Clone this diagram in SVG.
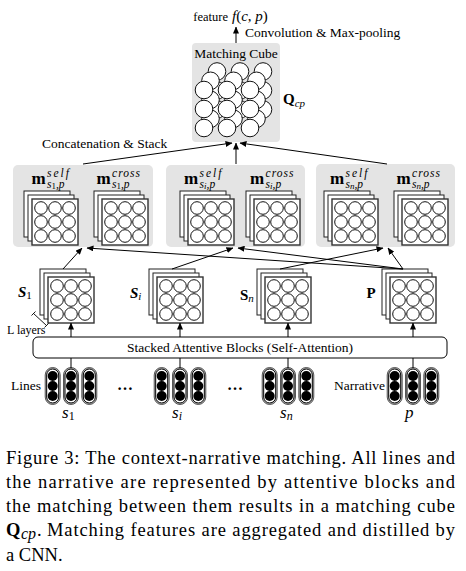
<svg xmlns="http://www.w3.org/2000/svg" width="466" height="571" viewBox="0 0 466 571">
<style>
text{font-family:"Liberation Serif","DejaVu Serif",serif;fill:#000}
.t{font-size:13.5px}
.box{fill:#e4e4e4;stroke:none}
.sheet{fill:#fff;stroke:#222;stroke-width:1}
.front{fill:#fff;stroke:#333;stroke-width:1.4}
.cc{fill:#fff;stroke:#111;stroke-width:1}
.conn line{stroke:#000;stroke-width:1;fill:none}
.arr{marker-end:url(#ah)}
.capo{fill:#bbb;stroke:#333;stroke-width:0.8}
.capi{fill:#fff;stroke:#000;stroke-width:1}
.dot{fill:#000}
.m{font-size:17px;font-weight:bold}
.sup{font-size:11.5px;font-style:italic}
.cap{font-size:18.5px}
</style>
<defs>
<marker id="ah" markerWidth="7" markerHeight="6" refX="6.5" refY="3" orient="auto" markerUnits="userSpaceOnUse">
<path d="M0,0 L7,3 L0,6 z" fill="#000"/>
</marker>
<symbol id="stack" overflow="visible">
<rect x="0" y="0" width="46" height="46" class="sheet"/>
<rect x="4" y="4" width="46" height="46" class="sheet"/>
<rect x="8" y="8" width="46" height="46" class="front"/>
<circle cx="17" cy="17" r="6.3" class="cc"/><circle cx="31" cy="17" r="6.3" class="cc"/><circle cx="45" cy="17" r="6.3" class="cc"/>
<circle cx="17" cy="31" r="6.3" class="cc"/><circle cx="31" cy="31" r="6.3" class="cc"/><circle cx="45" cy="31" r="6.3" class="cc"/>
<circle cx="17" cy="45" r="6.3" class="cc"/><circle cx="31" cy="45" r="6.3" class="cc"/><circle cx="45" cy="45" r="6.3" class="cc"/>
</symbol>
<symbol id="cap" overflow="visible">
<rect x="-7.5" y="0" width="15" height="37" rx="7.5" class="capo"/>
<rect x="-6" y="1.5" width="12" height="34" rx="6" class="capi"/>
<circle cx="0" cy="8.5" r="5" class="dot"/>
<circle cx="0" cy="18.5" r="5" class="dot"/>
<circle cx="0" cy="28.5" r="5" class="dot"/>
</symbol>
<symbol id="vec" overflow="visible">
<use href="#cap" x="-18.3" y="0"/>
<use href="#cap" x="0" y="0"/>
<use href="#cap" x="18.3" y="0"/>
</symbol>
<g id="layer">
<circle cx="0" cy="0" r="8.8" class="cc"/><circle cx="23" cy="0" r="8.8" class="cc"/><circle cx="46" cy="0" r="8.8" class="cc"/>
<circle cx="0" cy="19" r="8.8" class="cc"/><circle cx="23" cy="19" r="8.8" class="cc"/><circle cx="46" cy="19" r="8.8" class="cc"/>
<circle cx="0" cy="38" r="8.8" class="cc"/><circle cx="23" cy="38" r="8.8" class="cc"/><circle cx="46" cy="38" r="8.8" class="cc"/>
</g>
</defs>

<g id="feature">
<text x="228" y="21" font-size="12.5px" text-anchor="end">feature</text>
<text x="232" y="21" font-size="15px"><tspan font-style="italic">f</tspan>(<tspan font-style="italic">c</tspan>, <tspan font-style="italic">p</tspan>)</text>
<text class="t" x="245" y="37">Convolution &amp; Max-pooling</text>
</g>

<g id="cube">
<rect x="192" y="43" width="88" height="99" rx="4" class="box"/>
<text class="t" x="236" y="58" text-anchor="middle">Matching Cube</text>
<use href="#layer" x="217" y="71.5"/>
<use href="#layer" x="210.5" y="80.8"/>
<use href="#layer" x="204" y="90"/>
<text x="283" y="104" font-size="15px" font-weight="bold">Q<tspan font-size="11px" font-weight="normal" font-style="italic" dy="2.5">cp</tspan></text>
</g>

<g id="concat-label">
<text class="t" x="42" y="148">Concatenation &amp; Stack</text>
</g>

<g id="box-s1">
<rect x="13" y="165" width="140" height="82" rx="5" class="box"/>
<text class="m" x="31.5" y="184">m</text>
<text class="sup" x="47" y="177" textLength="22">self</text>
<text class="sup" x="47" y="187.5">s<tspan font-style="normal" font-size="9px" dy="1.5">1</tspan><tspan dy="-1.5">,p</tspan></text>
<text class="m" x="96.5" y="184">m</text>
<text class="sup" x="112" y="177" textLength="28">cross</text>
<text class="sup" x="112" y="187.5">s<tspan font-style="normal" font-size="9px" dy="1.5">1</tspan><tspan dy="-1.5">,p</tspan></text>
<use href="#stack" x="24" y="191"/>
<use href="#stack" x="94" y="191"/>
</g>

<g id="box-si">
<rect x="166" y="165" width="139" height="82" rx="5" class="box"/>
<text class="m" x="184" y="184">m</text>
<text class="sup" x="199.5" y="177" textLength="22">self</text>
<text class="sup" x="199.5" y="187.5">s<tspan font-size="9px" dy="1.5">i</tspan><tspan dy="-1.5">,p</tspan></text>
<text class="m" x="250" y="184">m</text>
<text class="sup" x="265.5" y="177" textLength="28">cross</text>
<text class="sup" x="265.5" y="187.5">s<tspan font-size="9px" dy="1.5">i</tspan><tspan dy="-1.5">,p</tspan></text>
<use href="#stack" x="180" y="191"/>
<use href="#stack" x="246" y="191"/>
</g>

<g id="box-sn">
<rect x="316" y="164" width="139" height="83" rx="5" class="box"/>
<text class="m" x="330" y="184">m</text>
<text class="sup" x="345.5" y="177" textLength="22">self</text>
<text class="sup" x="345.5" y="187.5">s<tspan font-size="9px" dy="1.5">n</tspan><tspan dy="-1.5">,p</tspan></text>
<text class="m" x="396.5" y="184">m</text>
<text class="sup" x="412" y="177" textLength="28">cross</text>
<text class="sup" x="412" y="187.5">s<tspan font-size="9px" dy="1.5">n</tspan><tspan dy="-1.5">,p</tspan></text>
<use href="#stack" x="324" y="191"/>
<use href="#stack" x="394" y="191"/>
</g>

<g id="S1">
<use href="#stack" x="40" y="269"/>
<text x="18" y="297" font-size="15px" font-weight="bold" font-style="italic">S<tspan font-size="11px" font-weight="normal" font-style="normal" dy="2">1</tspan></text>
</g>
<g id="Si">
<use href="#stack" x="149" y="269"/>
<text x="130" y="298" font-size="15px" font-weight="bold" font-style="italic">S<tspan font-size="11px" font-weight="normal" dy="2">i</tspan></text>
</g>
<g id="Sn">
<use href="#stack" x="257" y="269"/>
<text x="240" y="300" font-size="15px" font-weight="bold">S<tspan font-size="11px" font-weight="normal" font-style="italic" dy="2">n</tspan></text>
</g>
<g id="P">
<use href="#stack" x="382" y="269"/>
<text x="366.5" y="298" font-size="15px" font-weight="bold">P</text>
</g>

<g id="layers-label">
<line x1="33.5" y1="313.5" x2="46.5" y2="325.5" stroke="#000" stroke-width="0.9"/>
<line x1="31.5" y1="315.5" x2="35.5" y2="311.5" stroke="#000" stroke-width="0.9"/>
<line x1="44.5" y1="327.5" x2="48.5" y2="323.5" stroke="#000" stroke-width="0.9"/>
<text x="7" y="334" font-size="12px">L layers</text>
</g>

<g id="attentive">
<rect x="33" y="337" width="414" height="21" rx="5" fill="#fff" stroke="#000" stroke-width="1"/>
<text class="t" x="240" y="352" text-anchor="middle">Stacked Attentive Blocks (Self-Attention)</text>
</g>

<g id="inputs">
<use href="#vec" x="71" y="367.5"/>
<use href="#vec" x="180" y="367.5"/>
<use href="#vec" x="288" y="367.5"/>
<use href="#vec" x="413" y="367.5"/>
<text class="t" x="41" y="390" text-anchor="end">Lines</text>
<text class="t" x="385" y="390" text-anchor="end">Narrative</text>
<text x="125" y="390" font-size="16px" font-weight="bold" text-anchor="middle">…</text>
<text x="235" y="390" font-size="16px" font-weight="bold" text-anchor="middle">…</text>
<text x="62" y="418" font-size="17px" font-style="italic">s<tspan font-size="12px" font-style="normal" dy="2">1</tspan></text>
<text x="172" y="418" font-size="17px" font-style="italic">s<tspan font-size="12px" dy="2">i</tspan></text>
<text x="280" y="418" font-size="17px" font-style="italic">s<tspan font-size="12px" dy="2">n</tspan></text>
<text x="405" y="418" font-size="17px" font-style="italic">p</text>
</g>

<g id="connectors" class="conn">
<line class="arr" x1="236" y1="43" x2="236" y2="27"/>
<line class="arr" x1="83" y1="164" x2="232" y2="143"/>
<line class="arr" x1="236" y1="164" x2="236" y2="143"/>
<line class="arr" x1="387" y1="164" x2="240" y2="143"/>
<line class="arr" x1="63" y1="269" x2="82" y2="248"/>
<line class="arr" x1="403" y1="269" x2="87" y2="248"/>
<line class="arr" x1="172" y1="269" x2="233" y2="248"/>
<line class="arr" x1="403" y1="269" x2="238" y2="248"/>
<line class="arr" x1="280" y1="269" x2="383" y2="248"/>
<line class="arr" x1="403" y1="269" x2="388" y2="248"/>
<line class="arr" x1="71" y1="337" x2="71" y2="323"/>
<line class="arr" x1="180" y1="337" x2="180" y2="323"/>
<line class="arr" x1="288" y1="337" x2="288" y2="323"/>
<line class="arr" x1="413" y1="337" x2="413" y2="323"/>
<line x1="71" y1="358" x2="71" y2="368"/>
<line x1="180" y1="358" x2="180" y2="368"/>
<line x1="288" y1="358" x2="288" y2="368"/>
<line x1="413" y1="358" x2="413" y2="368"/>
</g>

<g id="caption">
<text class="cap" x="6" y="463.5" textLength="449" lengthAdjust="spacing">Figure 3: The context-narrative matching. All lines and</text>
<text class="cap" x="6" y="487.8" textLength="449" lengthAdjust="spacing">the narrative are represented by attentive blocks and</text>
<text class="cap" x="6" y="512" textLength="449" lengthAdjust="spacing">the matching between them results in a matching cube</text>
<text class="cap" x="6" y="536.3" font-weight="bold">Q</text>
<text x="21" y="539.3" font-size="16px" font-style="italic">cp</text>
<text class="cap" x="37" y="536.3">.</text>
<text class="cap" x="47" y="536.3" textLength="408" lengthAdjust="spacing">Matching features are aggregated and distilled by</text>
<text class="cap" x="6" y="560.5">a CNN.</text>
</g>
</svg>
